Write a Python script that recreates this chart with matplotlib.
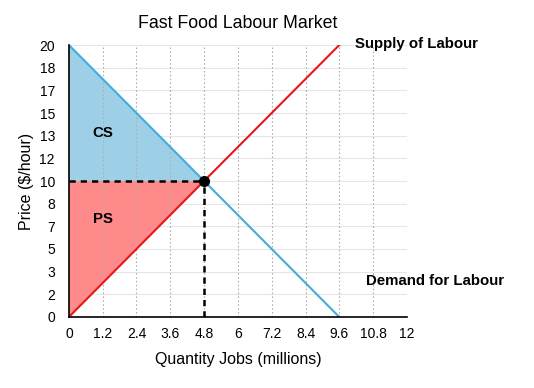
import matplotlib
matplotlib.use("Agg")
import matplotlib.pyplot as plt
import numpy as np

plt.rcParams['font.family'] = ['Liberation Sans', 'DejaVu Sans']

# Data
supply_q = [0, 9.6]
supply_p = [0, 20]
demand_q = [0, 9.6]
demand_p = [20, 0]
eq_q = 4.8
eq_p = 10
x_ticks = [0, 1.2, 2.4, 3.6, 4.8, 6, 7.2, 8.4, 9.6, 10.8, 12]
x_labels = ["0", "1.2", "2.4", "3.6", "4.8", "6", "7.2", "8.4", "9.6", "10.8", "12"]
y_ticks = list(np.linspace(0, 20, 13))
y_labels = ["0", "2", "3", "5", "7", "8", "10", "12", "13", "15", "17", "18", "20"]

fig = plt.figure(figsize=(5.34, 3.88), dpi=100)
ax = fig.add_axes([0.129, 0.183, 0.633, 0.701])

# Fills
ax.fill([0, 0, eq_q], [demand_p[0], eq_p, eq_p], color='#9dd0e6', lw=0, zorder=1)
ax.fill([0, 0, eq_q], [supply_p[0], eq_p, eq_p], color='#ff8a8a', lw=0, zorder=1)

# Grid
for x in x_ticks[1:]:
    ax.axvline(x, color='#b0b0b0', lw=0.8, ls=(0, (1.5, 2)), zorder=2)
for y in y_ticks[1:]:
    ax.axhline(y, color='#e6e6e6', lw=0.8, zorder=0.5)

# Lines
ax.plot(supply_q, supply_p, color='#e8161a', lw=1.5, zorder=3)
ax.plot(demand_q, demand_p, color='#44abdd', lw=1.5, zorder=3)
ax.plot([0, eq_q], [eq_p, eq_p], color='black', lw=1.8, ls=(0, (2.5, 2)), zorder=4)
ax.plot([eq_q, eq_q], [0, eq_p], color='black', lw=1.8, ls=(0, (2.5, 2)), zorder=4)
ax.plot([eq_q], [eq_p], 'o', color='black', ms=7, zorder=5)

# Text
ax.text(1.2, 13.5, "CS", fontsize=10.8, fontweight='bold', ha='center', va='center')
ax.text(1.2, 7.2, "PS", fontsize=10.8, fontweight='bold', ha='center', va='center')
ax.text(10.15, 20.1, "Supply of Labour", fontsize=10.8, fontweight='bold', ha='left', va='center', clip_on=False)
ax.text(10.54, 2.65, "Demand for Labour", fontsize=10.8, fontweight='bold', ha='left', va='center', clip_on=False)

ax.set_xlim(0, 12)
ax.set_ylim(0, 20)
ax.set_xticks(x_ticks)
ax.set_xticklabels(x_labels)
ax.set_yticks(y_ticks)
ax.set_yticklabels(y_labels)
ax.tick_params(axis='x', length=0, labelsize=10, pad=7)
ax.tick_params(axis='y', length=0, labelsize=10, pad=10)
for s in ['top', 'right']:
    ax.spines[s].set_visible(False)
for s in ['left', 'bottom']:
    ax.spines[s].set_linewidth(1.2)
    ax.spines[s].set_zorder(6)

ax.set_title("Fast Food Labour Market", fontsize=12.8, pad=12)
ax.set_xlabel("Quantity Jobs (millions)", fontsize=11.5, labelpad=8)
ax.set_ylabel("Price ($/hour)", fontsize=11.5, labelpad=4)

fig.savefig("out.png", dpi=100)
